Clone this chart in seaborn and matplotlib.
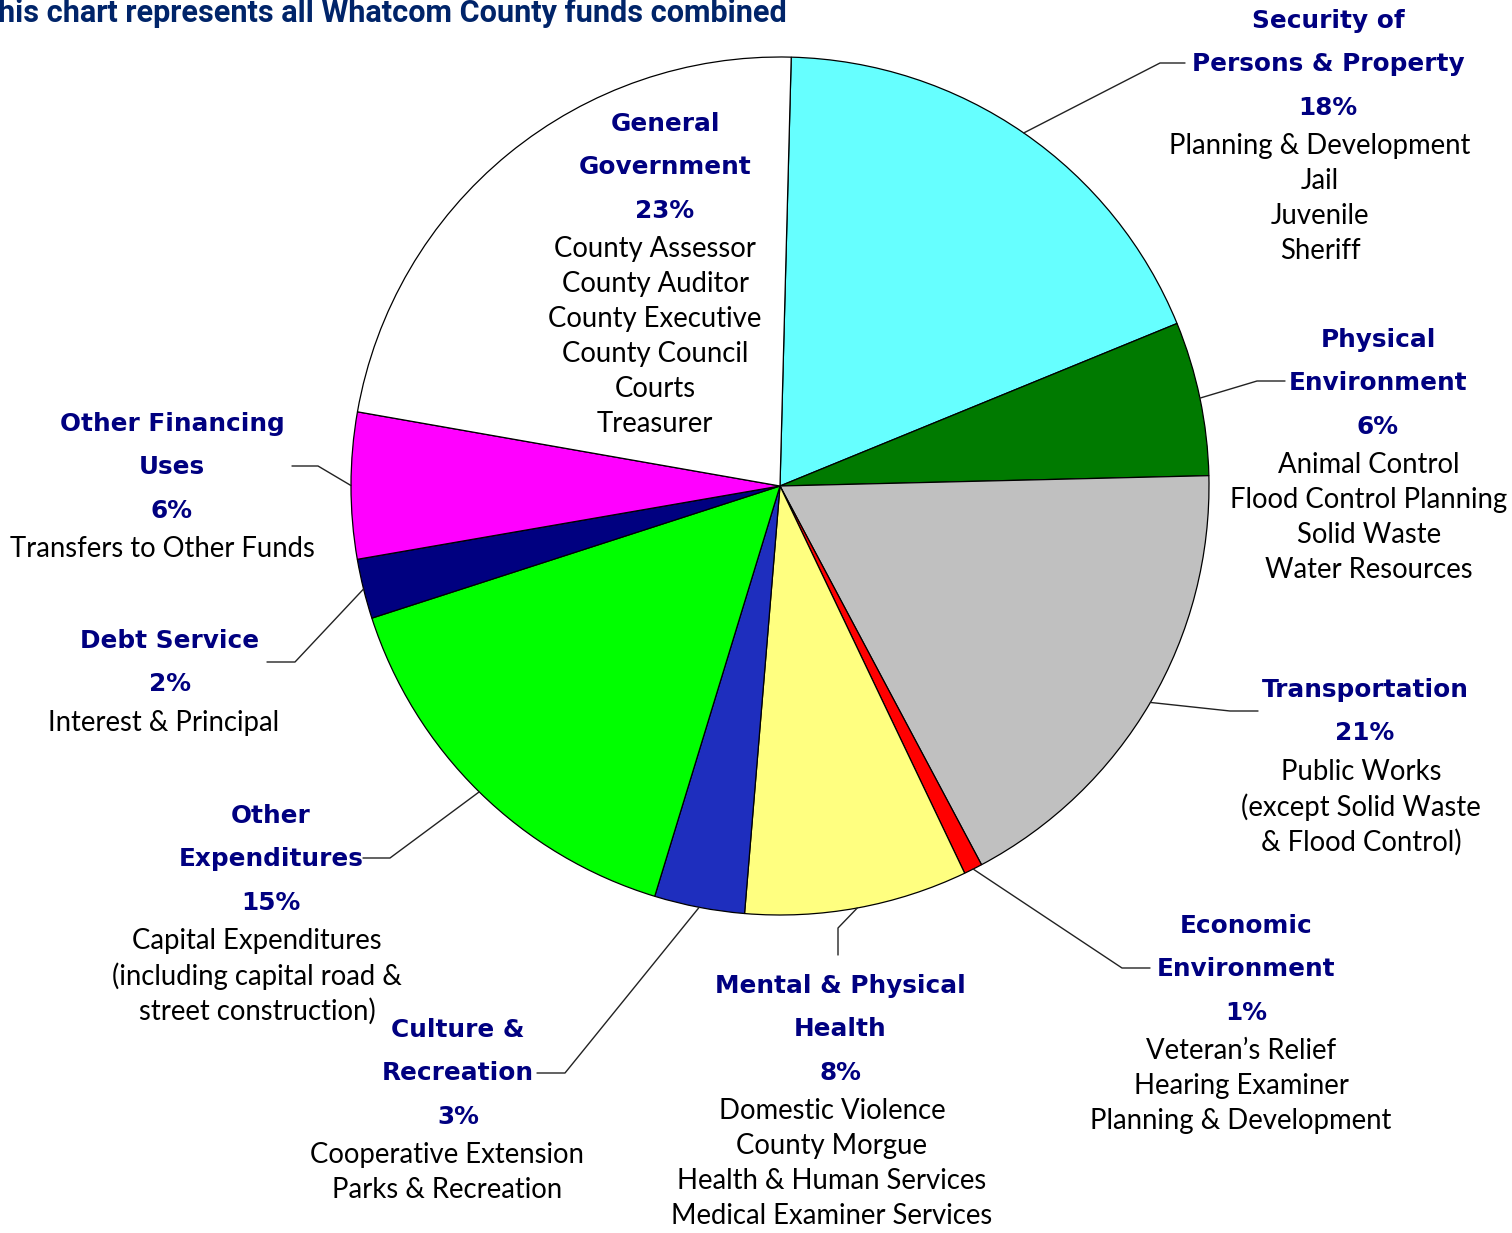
import matplotlib.pyplot as plt
import numpy as np
import seaborn as sns

# slices clockwise from the top, share of all funds (%)
categories = [
    ["Security of", "Persons & Property"],
    ["Physical", "Environment"],
    ["Transportation"],
    ["Economic", "Environment"],
    ["Mental & Physical", "Health"],
    ["Culture &", "Recreation"],
    ["Other", "Expenditures"],
    ["Debt Service"],
    ["Other Financing", "Uses"],
    ["General", "Government"],
]
values = [18.4, 5.8, 17.6, 0.7, 8.4, 3.4, 15.3, 2.25, 5.5, 22.65]
pct_labels = ["18%", "6%", "21%", "1%", "8%", "3%", "15%", "2%", "6%", "23%"]
details = [
    ["Planning & Development", "Jail", "Juvenile", "Sheriff"],
    ["Animal Control", "Flood Control Planning", "Solid Waste", "Water Resources"],
    ["Public Works", "(except Solid Waste", "& Flood Control)"],
    ["Veteran\u2019s Relief", "Hearing Examiner", "Planning & Development"],
    ["Domestic Violence", "County Morgue", "Health & Human Services",
     "Medical Examiner Services"],
    ["Cooperative Extension", "Parks & Recreation"],
    ["Capital Expenditures", "(including capital road &", "street construction)"],
    ["Interest & Principal"],
    ["Transfers to Other Funds"],
    ["County Assessor", "County Auditor", "County Executive", "County Council",
     "Courts", "Treasurer"],
]
colors = ["#66FFFF", "#007A00", "#C0C0C0", "#FF0000", "#FFFF80",
          "#1E2EBE", "#00FF00", "#000080", "#FF00FF", "#FFFFFF"]
title = "This chart represents all Whatcom County funds combined"

# label placement in pixels: (first line y, bold x, regular x, elbow, end of leader)
label_pos = [
    (21, 1328, 1320, (1160, 63), (1185, 63)),
    (340, 1378, 1369, (1257, 381), (1285, 381)),
    (690, 1365, 1361, (1230, 711), (1258, 711)),
    (926, 1246, 1241, (1122, 968), (1150, 968)),
    (986, 840, 832, (838, 928), (838, 955)),
    (1030, 458, 447, (565, 1073), (537, 1073)),
    (816, 271, 257, (390, 858), (363, 858)),
    (641, 170, 164, (295, 662), (267, 662)),
    (424, 172, 162, (318, 466), (292, 466)),
    (124, 665, 655, None, None),
]

W, H = 1512, 1233
CX, CY, R = 780, 486, 429

sns.set_theme(style="white")
plt.rcParams["font.family"] = ["Lato", "DejaVu Sans"]

fig = plt.figure(figsize=(W / 100, H / 100), dpi=100)
ax = fig.add_axes([0, 0, 1, 1])

# y runs downward, so counter-clockwise in data is clockwise on screen
wedges, _ = ax.pie(
    values,
    colors=colors,
    startangle=-88.5,
    counterclock=True,
    radius=R,
    center=(CX, CY),
    wedgeprops=dict(edgecolor="black", linewidth=0.9),
)
ax.set_xlim(0, W)
ax.set_ylim(H, 0)
ax.set_aspect("auto")
ax.axis("off")

BOLD_STEP, GAP, REG_STEP = 43.3, 38.5, 35.0
navy = "#000080"

for wedge, names, pct, lines, pos in zip(wedges, categories, pct_labels, details, label_pos):
    y0, bx, rx, elbow, end = pos
    y = y0
    for name in names + [pct]:
        ax.text(bx, y, name, ha="center", va="center", fontsize=17.8,
                fontweight="bold", color=navy, family=["DejaVu Sans"])
        y += BOLD_STEP
    y += GAP - BOLD_STEP
    for line in lines:
        ax.text(rx, y, line, ha="center", va="center", fontsize=19.8, color="black")
        y += REG_STEP
    if elbow is not None:
        mid = np.deg2rad((wedge.theta1 + wedge.theta2) / 2)
        start = (CX + R * np.cos(mid), CY + R * np.sin(mid))
        ax.plot([start[0], elbow[0], end[0]], [start[1], elbow[1], end[1]],
                color="#222222", linewidth=1.0)

# the title runs off the left edge in the original; size it so that
# everything after the "T" fills the first 787 px
renderer = fig.canvas.get_renderer()
probe = ax.text(0, 0, title[1:], fontsize=20, fontweight="bold", family=["Roboto"])
tw = probe.get_window_extent(renderer=renderer).width
probe.remove()
ax.text(787, 13, title, ha="right", va="center", fontsize=20 * 787 / tw,
        fontweight="bold", color="#002469", family=["Roboto"])

fig.savefig("out.png", dpi=100)
